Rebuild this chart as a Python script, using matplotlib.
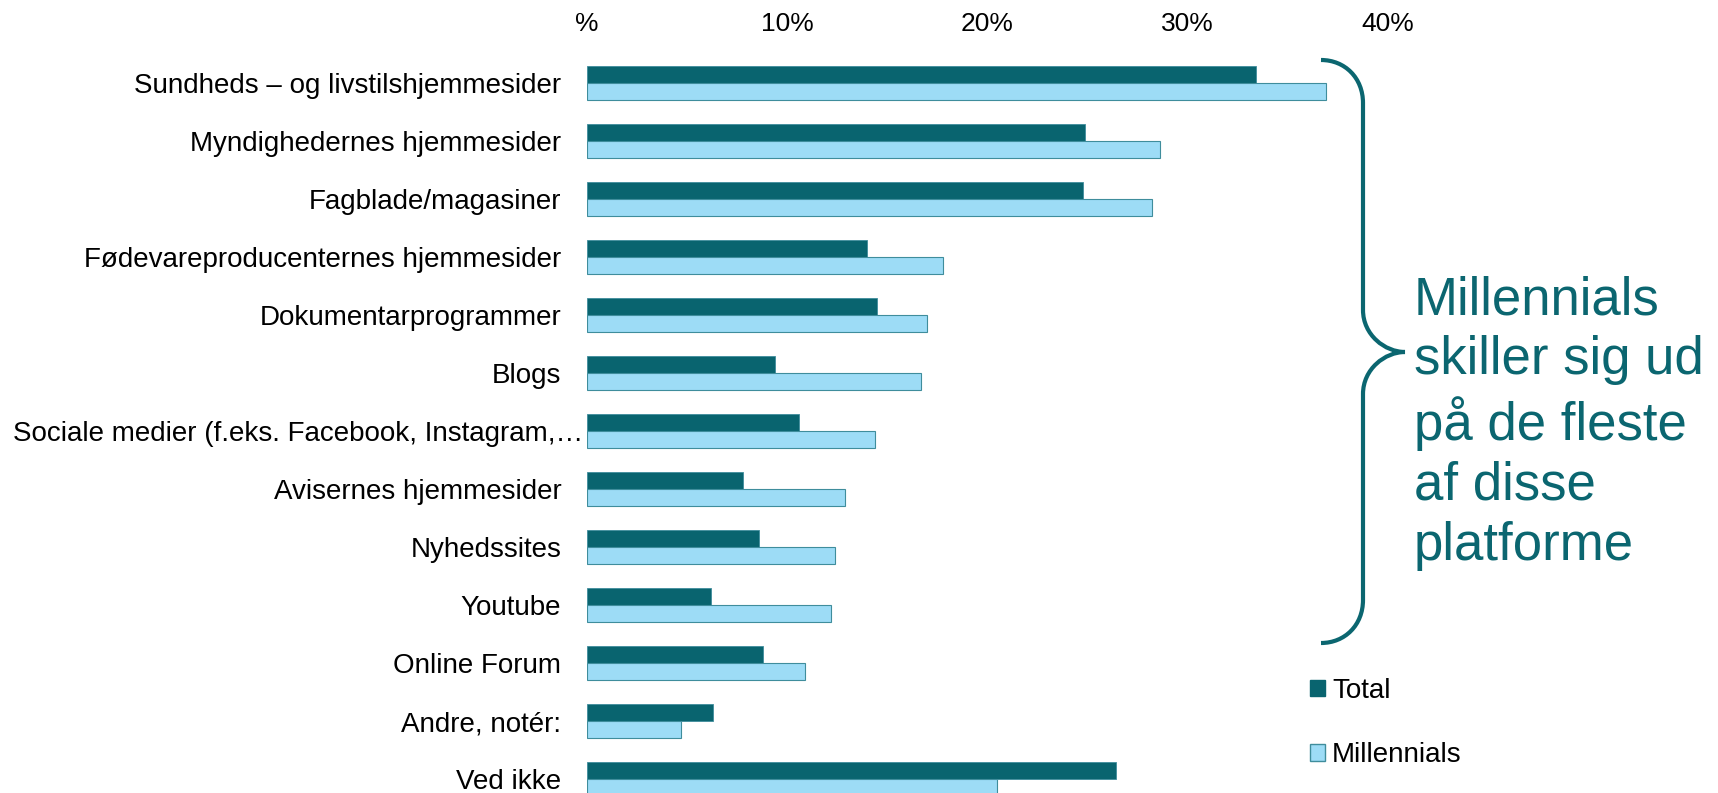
import matplotlib
matplotlib.use("Agg")
import matplotlib.pyplot as plt
import numpy as np
from matplotlib.patches import Patch, PathPatch
from matplotlib.path import Path
from matplotlib.transforms import Affine2D, blended_transform_factory

plt.rcParams["font.family"] = ["Liberation Sans", "DejaVu Sans"]

categories = [
    "Sundheds – og livstilshjemmesider",
    "Myndighedernes hjemmesider",
    "Fagblade/magasiner",
    "Fødevareproducenternes hjemmesider",
    "Dokumentarprogrammer",
    "Blogs",
    "Sociale medier (f.eks. Facebook, Instagram,…",
    "Avisernes hjemmesider",
    "Nyhedssites",
    "Youtube",
    "Online Forum",
    "Andre, notér:",
    "Ved ikke",
]
total = [33.4, 24.9, 24.8, 14.0, 14.5, 9.4, 10.6, 7.8, 8.6, 6.2, 8.8, 6.3, 26.4]
millennials = [36.9, 28.6, 28.2, 17.8, 17.0, 16.7, 14.4, 12.9, 12.4, 12.2, 10.9, 4.7, 20.5]
tick_values = [0, 10, 20, 30, 40]
tick_labels = ["%", "10%", "20%", "30%", "40%"]

C_TOTAL = "#09646f"
C_MILL = "#9ddcf6"
C_EDGE = "#3f8d9c"
C_NOTE = "#0b6670"

W, H = 1718, 793
fig = plt.figure(figsize=(W / 100, H / 100), dpi=100)
ax = fig.add_axes([587 / W, 1 - 808 / H, 800.8 / W, 754 / H])

y = np.arange(len(categories))
h = 0.293
ax.barh(y - h, total, height=h, align="edge", color=C_TOTAL,
        edgecolor=C_EDGE, linewidth=0.6, label="Total")
ax.barh(y, millennials, height=h, align="edge", color=C_MILL,
        edgecolor=C_EDGE, linewidth=0.8, label="Millennials")

ax.set_xlim(0, 40)
ax.set_ylim(len(categories) - 0.5, -0.5)
for s in ax.spines.values():
    s.set_visible(False)

ax.xaxis.tick_top()
ax.set_xticks(tick_values)
ax.set_xticklabels(tick_labels, fontsize=19)
ax.tick_params(axis="x", length=0, pad=13)

ax.set_yticks(y)
labels = [c if not c.startswith("Sociale") else "" for c in categories]
ax.set_yticklabels(labels, fontsize=20)
ax.tick_params(axis="y", length=0, pad=18.5)

# the long label runs from the left edge of the figure up to the bars
tr = blended_transform_factory(fig.transFigure, ax.transData)
for i, c in enumerate(categories):
    if c.startswith("Sociale"):
        ax.text(13 / W, i, c, transform=tr, ha="left", va="center_baseline",
                fontsize=20)

# legend
handles = [Patch(facecolor=C_TOTAL, edgecolor=C_TOTAL, label="Total"),
           Patch(facecolor=C_MILL, edgecolor=C_EDGE, label="Millennials")]
fig.legend(handles=handles, loc="upper left",
           bbox_to_anchor=(1310 / W, 1 - 678 / H), frameon=False,
           fontsize=20, handlelength=0.54, handleheight=0.54,
           handletextpad=0.26, borderpad=0, borderaxespad=0,
           labelspacing=1.38)

# curly brace in pixel coordinates of the figure
px = Affine2D().scale(1 / W, -1 / H).translate(0, 1) + fig.transFigure
verts = [
    (1321, 60), (1345, 60), (1363, 78), (1363, 103),
    (1363, 310),
    (1363, 335), (1385, 352), (1405, 352),
    (1385, 352), (1363, 369), (1363, 394),
    (1363, 600),
    (1363, 625), (1345, 643), (1321, 643),
]
codes = [Path.MOVETO, Path.CURVE4, Path.CURVE4, Path.CURVE4,
         Path.LINETO,
         Path.CURVE4, Path.CURVE4, Path.CURVE4,
         Path.CURVE4, Path.CURVE4, Path.CURVE4,
         Path.LINETO,
         Path.CURVE4, Path.CURVE4, Path.CURVE4]
brace = PathPatch(Path(verts, codes), transform=px, fill=False,
                  edgecolor=C_NOTE, linewidth=3.0, capstyle="butt")
fig.add_artist(brace)

fig.text(1414 / W, 1 - 423 / H,
         "Millennials\nskiller sig ud\npå de fleste\naf disse\nplatforme",
         ha="left", va="center", fontsize=38, color=C_NOTE, linespacing=1.255)

fig.savefig("out.png", dpi=100)
